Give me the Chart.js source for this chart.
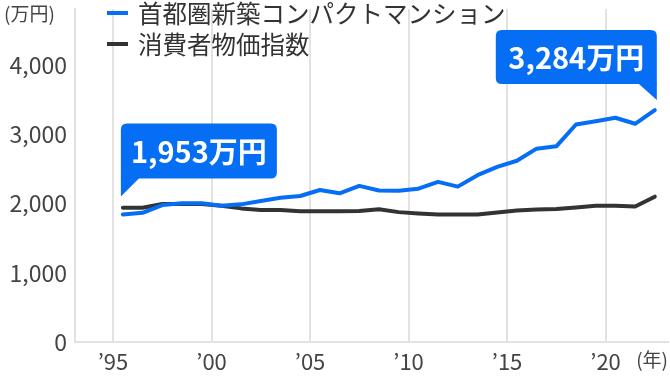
<!DOCTYPE html>
<html lang="ja">
<head>
<meta charset="utf-8">
<script src="https://cdn.jsdelivr.net/npm/chart.js@4"></script>
<style>
  html, body { margin: 0; padding: 0; background: #ffffff; }
  #wrap { position: relative; width: 670px; height: 376px; }
</style>
</head>
<body>
<div id="wrap"><canvas id="c" width="670" height="376"></canvas></div>
<script>
// ---- data ----
const years = [1995,1996,1997,1998,1999,2000,2001,2002,2003,2004,2005,2006,2007,2008,2009,2010,2011,2012,2013,2014,2015,2016,2017,2018,2019,2020,2021,2022];
const condoPrices = [1843,1866,1978,2003,2003,1968,1988,2036,2084,2109,2196,2148,2255,2189,2186,2215,2313,2244,2410,2530,2618,2793,2826,3142,3190,3239,3152,3350];
const cpiIndex    = [1939,1939,1993,1993,1993,1968,1930,1905,1905,1887,1887,1887,1891,1916,1876,1857,1843,1843,1843,1872,1898,1913,1920,1942,1968,1968,1956,2099];
const seriesNames = ['首都圏新築コンパクトマンション', '消費者物価指数'];
const xTickYears = [1995, 2000, 2005, 2010, 2015, 2020];
const yTickValues = [0, 1000, 2000, 3000, 4000];
const calloutTexts = ['1,953万円', '3,284万円'];
const yUnitLabel = '(万円)';
const xUnitLabel = '(年)';

const BLUE = '#066df5';
const DARK = '#333333';
const FONT = '"Noto Sans CJK JP", "Noto Sans", sans-serif';

const toPoints = vals => vals.map((v, i) => ({ x: years[i] + 0.5, y: v }));

function roundRectPath(ctx, x, y, w, h, r, squareCorner) {
  const rtl = r, rtr = r;
  const rbr = squareCorner === 'br' ? 0 : r;
  const rbl = squareCorner === 'bl' ? 0 : r;
  ctx.beginPath();
  ctx.moveTo(x + rtl, y);
  ctx.lineTo(x + w - rtr, y);
  ctx.quadraticCurveTo(x + w, y, x + w, y + rtr);
  ctx.lineTo(x + w, y + h - rbr);
  ctx.quadraticCurveTo(x + w, y + h, x + w - rbr, y + h);
  ctx.lineTo(x + rbl, y + h);
  ctx.quadraticCurveTo(x, y + h, x, y + h - rbl);
  ctx.lineTo(x, y + rtl);
  ctx.quadraticCurveTo(x, y, x + rtl, y);
  ctx.closePath();
}

const overlayPlugin = {
  id: 'overlay',
  afterDatasetsDraw(chart) {
    const ctx = chart.ctx;
    const meta = chart.getDatasetMeta(0);
    const first = meta.data[0];
    const last = meta.data[meta.data.length - 1];
    ctx.save();
    ctx.font = 'bold 29px ' + FONT;
    ctx.textBaseline = 'middle';
    ctx.textAlign = 'center';

    // callout 1 : tail at bottom-left, above first point
    {
      const tipX = first.x - 2, tipY = first.y - 18;
      const w = 156, h = 55, tail = 18;
      const bx = tipX, by = tipY - tail - h;
      ctx.fillStyle = BLUE;
      roundRectPath(ctx, bx, by, w, h, 6, 'bl');
      ctx.fill();
      ctx.beginPath();
      ctx.moveTo(tipX, by + h - 1);
      ctx.lineTo(tipX, tipY);
      ctx.lineTo(tipX + 19, by + h - 1);
      ctx.closePath();
      ctx.fill();
      ctx.fillStyle = '#ffffff';
      ctx.fillText(calloutTexts[0], bx + w / 2, by + h / 2 + 1);
    }
    // callout 2 : tail at bottom-right, above last point
    {
      const tipX = last.x + 2, tipY = last.y - 10;
      const w = 161, h = 54, tail = 16;
      const bx = tipX - w, by = tipY - tail - h;
      ctx.fillStyle = BLUE;
      roundRectPath(ctx, bx, by, w, h, 6, 'br');
      ctx.fill();
      ctx.beginPath();
      ctx.moveTo(tipX, by + h - 1);
      ctx.lineTo(tipX, tipY);
      ctx.lineTo(tipX - 19, by + h - 1);
      ctx.closePath();
      ctx.fill();
      ctx.fillStyle = '#ffffff';
      ctx.fillText(calloutTexts[1], bx + w / 2, by + h / 2 + 1);
    }
    ctx.restore();
  },
  afterDraw(chart) {
    const ctx = chart.ctx;
    ctx.save();
    // legend
    const colors = [BLUE, DARK];
    const ys = [13, 44];
    ctx.textBaseline = 'middle';
    ctx.textAlign = 'left';
    ctx.font = '24.5px ' + FONT;
    for (let i = 0; i < 2; i++) {
      ctx.fillStyle = colors[i];
      ctx.fillRect(107, ys[i] - 2, 21, 4);
      ctx.fillStyle = '#333333';
      ctx.fillText(seriesNames[i], 138, ys[i] + 1);
    }
    // unit labels
    ctx.fillStyle = '#444444';
    ctx.font = '19px ' + FONT;
    ctx.fillText(yUnitLabel, 4, 14);
    ctx.textAlign = 'right';
    ctx.fillText(xUnitLabel, 668, 360);
    ctx.restore();
  }
};

new Chart(document.getElementById('c'), {
  type: 'line',
  data: {
    datasets: [
      { label: seriesNames[0], data: toPoints(condoPrices), borderColor: BLUE, borderWidth: 4, pointRadius: 0, tension: 0, borderJoinStyle: 'round', borderCapStyle: 'round' },
      { label: seriesNames[1], data: toPoints(cpiIndex), borderColor: DARK, borderWidth: 4, pointRadius: 0, tension: 0, borderJoinStyle: 'round', borderCapStyle: 'round' }
    ]
  },
  options: {
    responsive: false,
    animation: false,
    layout: { padding: { top: 9, right: 2, left: 0, bottom: 0 } },
    plugins: { legend: { display: false }, tooltip: { enabled: false } },
    scales: {
      x: {
        type: 'linear',
        min: 1993.07,
        max: 2023.17,
        afterBuildTicks: s => { s.ticks = xTickYears.map(v => ({ value: v })); },
        afterFit: s => { s.height = 34; s.paddingLeft = 0; s.paddingRight = 0; },
        grid: { display: true, color: '#e2e2e2', lineWidth: 2, drawTicks: false },
        border: { display: true, color: '#e2e2e2', width: 2 },
        ticks: {
          autoSkip: false, maxRotation: 0, padding: 6, color: '#444444',
          font: { family: FONT, size: 22 },
          callback: v => '\u2019' + String(v).slice(2)
        }
      },
      y: {
        min: 0,
        max: 4810,
        afterBuildTicks: s => { s.ticks = yTickValues.map(v => ({ value: v })); },
        afterFit: s => { s.width = 75; s.paddingTop = 0; s.paddingBottom = 0; },
        grid: { display: false, drawTicks: false },
        border: { display: true, color: '#e2e2e2', width: 2 },
        ticks: {
          padding: 8, color: '#444444',
          font: { family: FONT, size: 23 },
          callback: v => v.toLocaleString('en-US')
        }
      }
    }
  },
  plugins: [overlayPlugin]
});
</script>
</body>
</html>
